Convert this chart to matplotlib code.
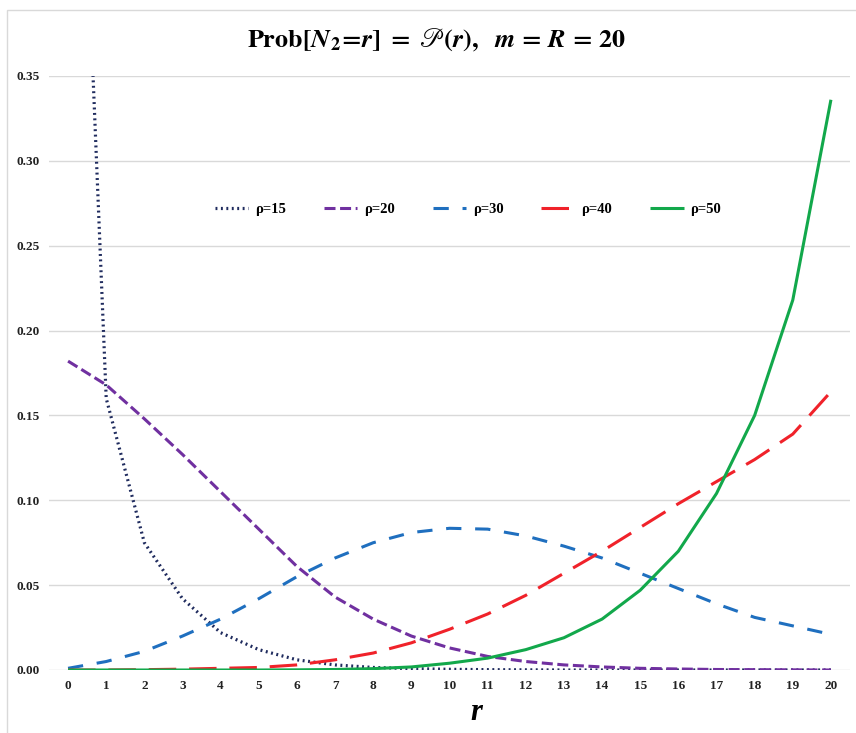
import matplotlib
matplotlib.use("Agg")
import matplotlib.pyplot as plt
from matplotlib.patches import Rectangle

plt.rcParams['font.family'] = ['Liberation Serif', 'DejaVu Serif']
plt.rcParams['mathtext.fontset'] = 'stix'

r_values = list(range(21))
tick_labels = [str(v) for v in r_values]

rho15 = [0.71, 0.16, 0.075, 0.042, 0.022, 0.012, 0.006, 0.003, 0.0015, 0.0008,
         0.0004, 0.0002, 0.0001, 0.0, 0.0, 0.0, 0.0, 0.0, 0.0, 0.0, 0.0]
rho20 = [0.182, 0.168, 0.148, 0.127, 0.105, 0.083, 0.061, 0.043, 0.030, 0.020,
         0.013, 0.008, 0.005, 0.003, 0.0018, 0.001, 0.0006, 0.0003, 0.0002, 0.0001, 0.0]
rho30 = [0.001, 0.005, 0.011, 0.020, 0.030, 0.042, 0.055, 0.066, 0.075, 0.081,
         0.0835, 0.083, 0.079, 0.073, 0.066, 0.057, 0.048, 0.039, 0.031, 0.026, 0.021]
rho40 = [0.0, 0.0, 0.0002, 0.0005, 0.001, 0.0015, 0.003, 0.006, 0.010, 0.016,
         0.024, 0.033, 0.044, 0.057, 0.070, 0.084, 0.098, 0.111, 0.124, 0.139, 0.164]
rho50 = [0.0, 0.0, 0.0, 0.0, 0.0, 0.0, 0.0001, 0.0003, 0.0008, 0.0018,
         0.004, 0.007, 0.012, 0.019, 0.030, 0.047, 0.070, 0.104, 0.150, 0.218, 0.336]

series = [
    ("ρ=15", rho15, "#1F2B5E", (0, (0.6, 1.1)), 2.3),
    ("ρ=20", rho20, "#7030A0", (0, (3.6, 1.5)), 2.2),
    ("ρ=30", rho30, "#1F6FBF", (0, (5.0, 4.5)), 2.2),
    ("ρ=40", rho40, "#F0222A", (0, (9.0, 4.2)), 2.2),
    ("ρ=50", rho50, "#12A84B", "-", 2.2),
]

fig = plt.figure(figsize=(8.56, 7.33), dpi=100)
ax = fig.add_axes([49/856, 63/733, 801/856, 594/733])

for label, vals, color, ls, lw in series:
    ax.plot(r_values, vals, color=color, linestyle=ls, linewidth=lw, label=label,
            solid_capstyle='butt', dash_capstyle='butt')

ax.set_xlim(-0.5, 20.5)
ax.set_ylim(0, 0.35)
yt = [0.0, 0.05, 0.10, 0.15, 0.20, 0.25, 0.30, 0.35]
ax.set_yticks(yt)
ax.set_yticklabels([f"{v:.2f}" for v in yt])
ax.set_xticks(r_values)
ax.set_xticklabels(tick_labels)
ax.tick_params(axis='both', length=0, labelsize=9.5, colors='#222222')
ax.tick_params(axis='x', pad=7)
ax.tick_params(axis='y', pad=7)
for t in ax.get_xticklabels() + ax.get_yticklabels():
    t.set_fontweight('bold')
ax.grid(axis='y', color='#D9D9D9', linewidth=1.0)
ax.set_axisbelow(True)
for s in ax.spines.values():
    s.set_visible(False)

leg = ax.legend(loc='center', bbox_to_anchor=(0.523, 0.775), ncol=5, frameon=False,
                prop={'weight': 'bold', 'size': 10.5}, handlelength=2.3,
                columnspacing=2.6, handletextpad=0.45)

fig.text(476/856, 1 - 713/733, "r", ha='center', va='center', fontsize=22,
         fontweight='bold', style='italic')

title = (r"$\mathbf{Prob[}\mathbfit{N}_{\mathbf{2}}\!\mathbf{=}\!\mathbfit{r}\mathbf{]\ =\ }"
         r"\mathscr{P}\mathbf{(}\mathbfit{r}\mathbf{),\ \ }\mathbfit{m}\!\mathbf{\ =\ }\!"
         r"\mathbfit{R}\!\mathbf{\ =\ }\!\mathbf{20}$")
fig.text(437/856, 1 - 40/733, title, ha='center', va='center', fontsize=18.8)

fig.patches.append(Rectangle((7/856, -0.01), 1.0, 1 - 10/733 + 0.01,
                             transform=fig.transFigure, fill=False,
                             edgecolor='#D9D9D9', linewidth=1.0))

fig.savefig("out.png", dpi=100)
